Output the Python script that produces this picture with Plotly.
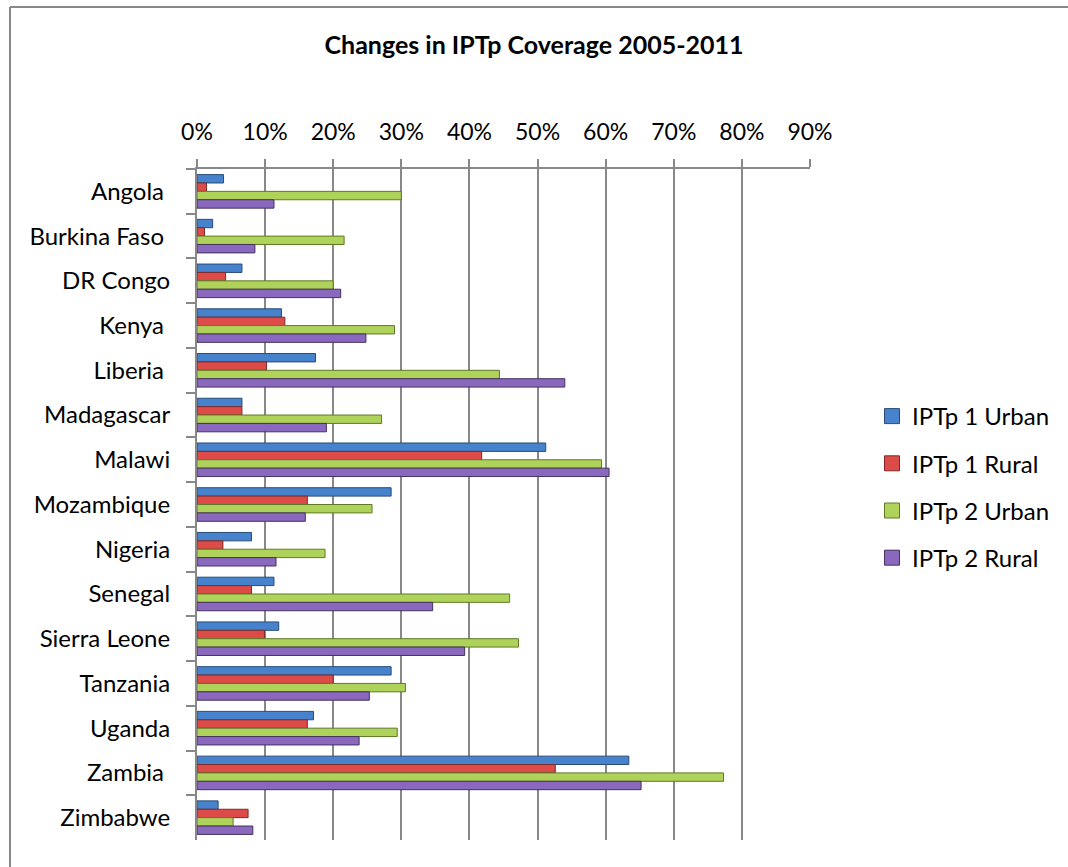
import plotly.graph_objects as go

# Countries (top to bottom); a trailing non-breaking space is kept where the label has one
countries = [
    "Angola\u00a0", "Burkina Faso\u00a0", "DR Congo", "Kenya\u00a0", "Liberia\u00a0",
    "Madagascar", "Malawi", "Mozambique", "Nigeria", "Senegal",
    "Sierra Leone", "Tanzania", "Uganda", "Zambia\u00a0", "Zimbabwe",
]

# IPTp coverage, fraction of pregnant women
iptp1_urban = [0.039, 0.023, 0.066, 0.124, 0.174, 0.066, 0.512, 0.285, 0.080, 0.113, 0.120, 0.285, 0.171, 0.634, 0.031]
iptp1_rural = [0.014, 0.011, 0.042, 0.129, 0.102, 0.066, 0.418, 0.162, 0.038, 0.080, 0.099, 0.200, 0.162, 0.526, 0.075]
iptp2_urban = [0.300, 0.216, 0.200, 0.290, 0.444, 0.271, 0.594, 0.257, 0.188, 0.459, 0.472, 0.306, 0.294, 0.773, 0.053]
iptp2_rural = [0.113, 0.085, 0.211, 0.248, 0.540, 0.190, 0.605, 0.159, 0.116, 0.346, 0.393, 0.253, 0.238, 0.652, 0.082]

x_ticks = [0, 0.1, 0.2, 0.3, 0.4, 0.5, 0.6, 0.7, 0.8, 0.9]
x_tick_labels = ["0%", "10%", "20%", "30%", "40%", "50%", "60%", "70%", "80%", "90%"]

series = [
    ("IPTp 1 Urban", iptp1_urban, "#4683cc", "#284c78"),
    ("IPTp 1 Rural", iptp1_rural, "#dd4b48", "#7e2b29"),
    ("IPTp 2 Urban", iptp2_urban, "#afd25a", "#5f7a26"),
    ("IPTp 2 Rural", iptp2_rural, "#8a68bd", "#44325f"),
]

FONT = "Lato, 'Open Sans', sans-serif"
GRID = "#888888"

fig = go.Figure()
for i, (name, vals, fill, edge) in enumerate(series):
    fig.add_trace(go.Bar(
        name=name,
        y=countries,
        x=vals,
        orientation="h",
        showlegend=False,
        marker=dict(color=fill, line=dict(color=edge, width=1)),
        hoverinfo="x+y+name",
    ))

# Legend keys drawn as larger squares than the default bar swatch
for i, (name, vals, fill, edge) in enumerate(series):
    fig.add_trace(go.Scatter(
        name=name,
        x=[None],
        y=[None],
        mode="markers",
        legendgroup=f"g{i}",
        marker=dict(symbol="square", size=15, color=fill, line=dict(color=edge, width=1)),
        hoverinfo="skip",
    ))

fig.update_layout(
    width=1068,
    height=867,
    margin=dict(l=197, r=258, t=169, b=27, autoexpand=False),
    paper_bgcolor="white",
    plot_bgcolor="white",
    barmode="group",
    bargap=0.25,
    bargroupgap=0,
    font=dict(family=FONT, size=23, color="#000000"),
    title=dict(
        text="<b>Changes in IPTp Coverage 2005-2011</b>",
        x=0.5, xref="container", xanchor="center",
        y=1 - 45 / 867, yref="container", yanchor="middle",
        font=dict(family=FONT, size=25, color="#000000"),
    ),
    legend=dict(
        x=(872 - 197) / 613, xanchor="left",
        y=(840 - 487) / 671, yanchor="middle",
        traceorder="grouped",
        tracegroupgap=13,
        itemsizing="trace",
        font=dict(family=FONT, size=24, color="#000000"),
        bgcolor="rgba(0,0,0,0)",
        itemclick=False,
    ),
    xaxis=dict(
        side="top",
        range=[0, 0.9],
        tickvals=x_ticks,
        ticktext=x_tick_labels,
        showgrid=True,
        gridcolor=GRID,
        gridwidth=2,
        zeroline=False,
        showline=True,
        linecolor=GRID,
        linewidth=2,
        ticks="outside",
        ticklen=8,
        tickwidth=2,
        tickcolor=GRID,
        ticklabelstandoff=10,
        tickfont=dict(family=FONT, size=23, color="#000000"),
        fixedrange=True,
    ),
    yaxis=dict(
        autorange="reversed",
        showgrid=False,
        zeroline=False,
        showline=True,
        linecolor=GRID,
        linewidth=2,
        ticks="outside",
        tickson="boundaries",
        ticklen=9,
        tickwidth=2,
        tickcolor=GRID,
        ticklabelstandoff=20,
        tickfont=dict(family=FONT, size=24, color="#000000"),
        fixedrange=True,
    ),
    shapes=[
        # chart-area frame (left and top edges sit inside the page)
        dict(type="line", xref="paper", yref="paper",
             x0=(10 - 197) / 613, x1=(1075 - 197) / 613,
             y0=(840 - 7) / 671, y1=(840 - 7) / 671,
             line=dict(color=GRID, width=2)),
        dict(type="line", xref="paper", yref="paper",
             x0=(10 - 197) / 613, x1=(10 - 197) / 613,
             y0=(840 - 7) / 671, y1=(840 - 875) / 671,
             line=dict(color=GRID, width=2)),
    ],
)

fig.write_html("out.html", config={"displayModeBar": False})
